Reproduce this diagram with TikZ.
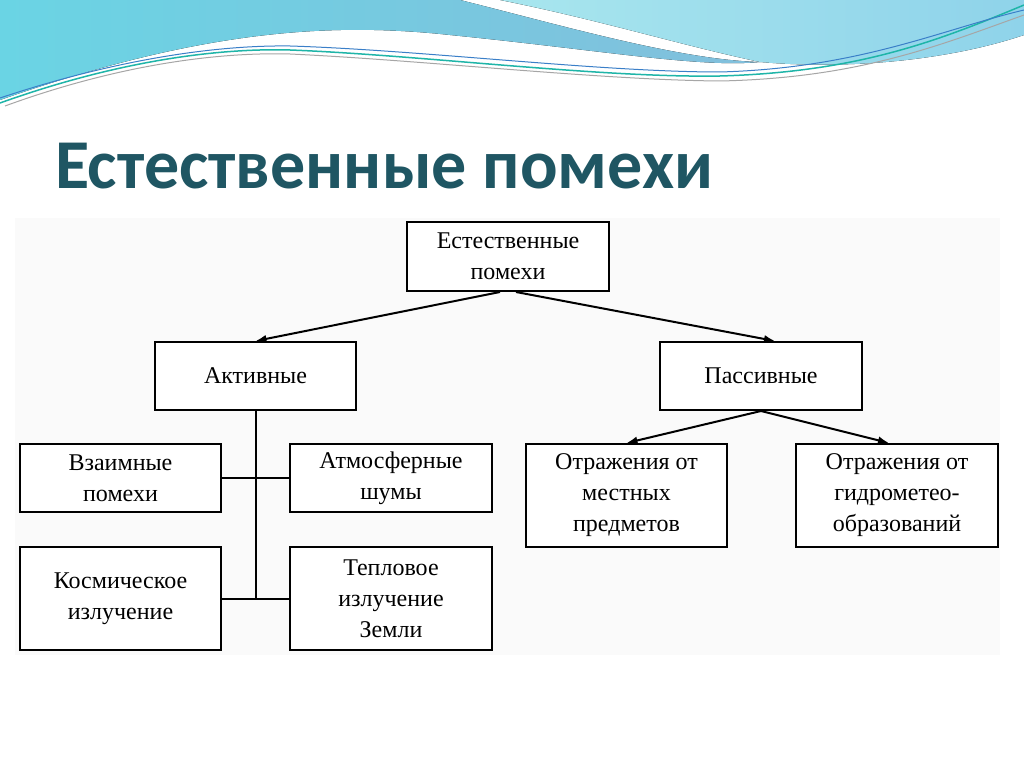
\documentclass[tikz,border=0pt]{standalone}
\usepackage{fontspec}
\setmainfont{Liberation Serif}
\newfontfamily\titlefont{Carlito}
\usetikzlibrary{arrows.meta}
\definecolor{bandAl}{HTML}{6AD4E4}
\definecolor{bandAr}{HTML}{82BFDC}
\definecolor{bandBl}{HTML}{A8E6EE}
\definecolor{bandBr}{HTML}{8FD3EA}
\definecolor{lteal}{HTML}{1FB5A8}
\definecolor{lblue}{HTML}{3A7FC8}
\definecolor{titlec}{HTML}{1F5663}
\definecolor{diagbg}{HTML}{FAFAFA}
\begin{document}
\begin{tikzpicture}[x=1pt,y=-1pt,
  bx/.style={draw=black,line width=2pt,fill=white,align=center,font=\fontsize{24}{31}\selectfont,inner sep=0pt},
  arr/.style={-{Latex[length=11pt,width=8pt]},line width=2pt},
  ln/.style={line width=2pt}]
\useasboundingbox (0,0) rectangle (1024,767);
\fill[white] (0,0) rectangle (1024,767);
% top decoration
\fill[left color=bandAl,right color=bandAr] (0,0) -- (460,0) .. controls (560,25) and (680,60) .. (760,62)
  .. controls (700,68) and (600,50) .. (450,35) .. controls (330,22) and (200,30) .. (0,100) -- cycle;
\fill[left color=bandBl,right color=bandBr] (500,0) -- (1024,0) -- (1024,35) .. controls (950,60) and (850,70) .. (760,62)
  .. controls (680,45) and (600,20) .. (500,0) -- cycle;
\draw[lteal,line width=1.5pt] (0,103) .. controls (120,60) and (220,48) .. (290,50) .. controls (420,55) and (600,78) .. (720,76) .. controls (860,72) and (940,40) .. (1024,5);
\draw[lblue,line width=1pt] (0,98) .. controls (120,58) and (220,45) .. (290,46) .. controls (420,50) and (600,72) .. (720,72) .. controls (860,68) and (940,30) .. (1024,10);
\draw[gray!70,line width=1pt] (5,106) .. controls (120,64) and (220,52) .. (290,54) .. controls (420,60) and (600,80) .. (720,81) .. controls (860,78) and (940,45) .. (1024,15);
% title
\node[anchor=west,font=\titlefont\bfseries\fontsize{70}{80}\selectfont,text=titlec,inner sep=0pt] (title) at (55,166) {Естественные помехи};
% diagram background
\fill[diagbg] (15,218) rectangle (1000,655);
% boxes
\node[bx,minimum width=202pt,minimum height=69pt] (top) at (508,256.5) {Естественные\\помехи};
\node[bx,minimum width=201pt,minimum height=68pt] (act) at (255.5,376) {Активные};
\node[bx,minimum width=202pt,minimum height=68pt] (pas) at (761,376) {Пассивные};
\node[bx,minimum width=201pt,minimum height=68pt] (vz) at (120.5,478) {Взаимные\\помехи};
\node[bx,minimum width=202pt,minimum height=68pt] (atm) at (391,478) {Атмосферные\\шумы};
\node[bx,minimum width=201pt,minimum height=103pt] (kos) at (120.5,598.5) {Космическое\\излучение};
\node[bx,minimum width=202pt,minimum height=103pt] (tep) at (391,598.5) {Тепловое\\излучение\\Земли};
\node[bx,minimum width=201pt,minimum height=103pt] (otm) at (626.5,495.5) {Отражения от\\местных\\предметов};
\node[bx,minimum width=202pt,minimum height=103pt] (otg) at (897,495.5) {Отражения от\\гидрометео-\\образований};
% connectors
\draw[arr] ([xshift=-8pt]top.south) -- (act.north);
\draw[arr] ([xshift=8pt]top.south) -- ([xshift=14pt]pas.north);
\draw[arr] (pas.south) -- (otm.north);
\draw[arr] (pas.south) -- ([xshift=-8pt]otg.north);
\coordinate (j2) at (act.south |- kos.east);
\draw[ln] (act.south) -- (j2);
\draw[ln] (vz.east) -- (atm.west);
\draw[ln] (kos.east) -- (tep.west);
\end{tikzpicture}
\end{document}
